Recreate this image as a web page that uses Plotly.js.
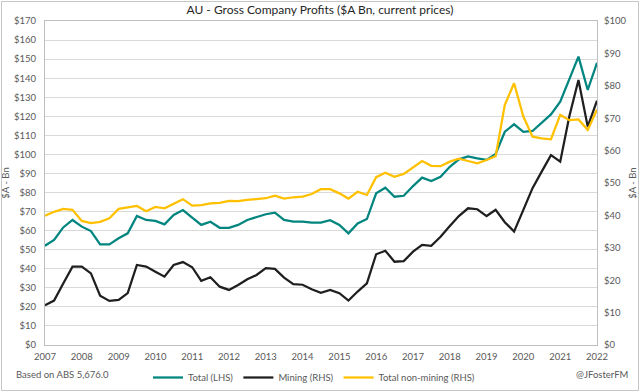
<!DOCTYPE html>
<html>
<head>
<meta charset="utf-8">
<script src="https://cdn.plot.ly/plotly-3.0.1.min.js"></script>
<style>
html,body{margin:0;padding:0;background:#fff;}
#wrap{position:relative;width:640px;height:392px;}
#chart{width:640px;height:392px;}
#frame{position:absolute;left:1px;top:1px;width:636px;height:388px;border:1px solid #c6c6c6;pointer-events:none;}
</style>
</head>
<body>
<div id="wrap"><div id="chart"></div><div id="frame"></div></div>
<script>
// Quarterly observations (plotted from start of 2007 to start of 2022)
const quarters = [
 "2007-01-01","2007-04-01","2007-07-01","2007-10-01",
 "2008-01-01","2008-04-01","2008-07-01","2008-10-01",
 "2009-01-01","2009-04-01","2009-07-01","2009-10-01",
 "2010-01-01","2010-04-01","2010-07-01","2010-10-01",
 "2011-01-01","2011-04-01","2011-07-01","2011-10-01",
 "2012-01-01","2012-04-01","2012-07-01","2012-10-01",
 "2013-01-01","2013-04-01","2013-07-01","2013-10-01",
 "2014-01-01","2014-04-01","2014-07-01","2014-10-01",
 "2015-01-01","2015-04-01","2015-07-01","2015-10-01",
 "2016-01-01","2016-04-01","2016-07-01","2016-10-01",
 "2017-01-01","2017-04-01","2017-07-01","2017-10-01",
 "2018-01-01","2018-04-01","2018-07-01","2018-10-01",
 "2019-01-01","2019-04-01","2019-07-01","2019-10-01",
 "2020-01-01","2020-04-01","2020-07-01","2020-10-01",
 "2021-01-01","2021-04-01","2021-07-01","2021-10-01",
 "2022-01-01"
];

// Total (LHS), $A Bn
const totalLHS = [
 52.1,55.1,61.7,65.6,62.1,59.8,52.8,52.8,56.0,58.6,67.7,65.6,65.1,63.3,68.2,70.8,
 66.8,63.0,64.7,61.5,61.5,63.0,65.6,67.3,68.6,69.4,65.6,64.7,64.7,64.2,64.2,65.5,
 63.0,58.6,63.8,66.1,79.6,82.5,77.8,78.3,83.4,87.8,86.0,88.3,93.5,97.4,
 99.0,97.9,97.1,100.2,111.9,115.8,111.8,112.3,116.6,121.0,127.7,139.0,151.3,133.8,148.1
];

// Mining (RHS), $A Bn
const miningRHS = [
 12.3,13.7,19.0,24.2,24.2,22.1,15.2,13.6,13.9,16.0,24.7,24.2,22.6,21.1,24.7,25.6,
 24.0,19.8,20.9,18.0,17.0,18.5,20.3,21.6,23.7,23.5,20.8,18.8,18.6,17.2,16.1,17.0,
 16.0,13.7,16.5,19.0,28.0,29.1,25.7,25.9,28.8,30.9,30.6,33.4,36.7,39.8,
 42.2,41.9,39.8,41.7,37.9,35.0,41.7,48.4,53.5,58.6,56.6,70.5,81.8,67.4,75.4
];

// Total non-mining (RHS), $A Bn
const nonMiningRHS = [
 39.9,41.1,42.0,41.7,38.3,37.6,38.0,39.1,42.0,42.5,42.9,41.3,42.6,42.2,43.5,45.0,
 43.0,43.2,43.7,43.9,44.5,44.4,44.8,45.0,45.3,46.1,45.2,45.6,45.8,46.6,48.1,48.1,
 46.8,45.2,47.3,46.3,51.8,53.2,51.9,52.8,54.7,56.8,55.3,55.2,56.6,57.5,
 56.8,56.1,57.1,58.3,74.1,80.8,70.5,64.3,63.8,63.5,71.0,69.4,69.6,66.4,72.7
];

const seriesNames = ["Total (LHS)", "Mining (RHS)", "Total non-mining (RHS)"];
const yearTicks = ["2007","2008","2009","2010","2011","2012","2013","2014","2015","2016","2017","2018","2019","2020","2021","2022"];

const FONT = "Lato, 'Open Sans', 'Liberation Sans', sans-serif";
const GREY = "#595959";

const traces = [
  {x: quarters, y: totalLHS, name: seriesNames[0], type: "scatter", mode: "lines",
   line: {color: "#00857F", width: 2.25}, yaxis: "y"},
  {x: quarters, y: miningRHS, name: seriesNames[1], type: "scatter", mode: "lines",
   line: {color: "#1F1F1F", width: 2.25}, yaxis: "y2"},
  {x: quarters, y: nonMiningRHS, name: seriesNames[2], type: "scatter", mode: "lines",
   line: {color: "#FFC000", width: 2.25}, yaxis: "y2"}
];

const layout = {
  width: 640, height: 392,
  margin: {l: 45, r: 43, t: 21, b: 47, autoexpand: false},
  paper_bgcolor: "#ffffff", plot_bgcolor: "#ffffff",
  font: {family: FONT, size: 9.5, color: GREY},
  showlegend: true,
  title: {text: "AU - Gross Company Profits ($A Bn, current prices)",
          font: {family: FONT, size: 12, color: "#262626"},
          x: 0.5, xanchor: "center", y: 1 - 10/392, yanchor: "middle", yref: "container"},
  xaxis: {
    type: "date", range: ["2007-01-01", "2022-01-01"],
    tickmode: "array", tickvals: yearTicks.map(y => y + "-01-01"), ticktext: yearTicks,
    showgrid: false, showline: true, linecolor: "#bfbfbf", linewidth: 1, mirror: true,
    ticks: "", ticklabelstandoff: 3, tickfont: {size: 9.5, color: GREY}, zeroline: false, fixedrange: true
  },
  yaxis: {
    range: [0, 170], dtick: 10, tick0: 0, tickprefix: "$",
    showgrid: true, gridcolor: "#d9d9d9", gridwidth: 1,
    showline: true, linecolor: "#bfbfbf", linewidth: 1, mirror: true,
    zeroline: false, ticks: "", ticklabelstandoff: 6,
    tickfont: {size: 9.5, color: GREY},
    title: {text: "$A - Bn", font: {size: 9.5, color: GREY}, standoff: 2}
  },
  yaxis2: {
    range: [0, 100], dtick: 10, tick0: 0, tickprefix: "$",
    overlaying: "y", side: "right", showgrid: false, zeroline: false,
    showline: false, ticks: "", ticklabelstandoff: 6,
    tickfont: {size: 9.5, color: GREY},
    title: {text: "$A - Bn", font: {size: 9.5, color: GREY}, standoff: 3}
  },
  legend: {orientation: "h", x: (148-45)/552, xanchor: "left", y: (345-363)/324, yanchor: "top",
           font: {size: 9.5, color: GREY}, itemwidth: 30, bgcolor: "rgba(0,0,0,0)"},
  annotations: [
    {text: "Based on ABS 5,676.0", xref: "paper", yref: "paper",
     x: (14-45)/552, xanchor: "left", y: (345-374)/324, yanchor: "middle",
     showarrow: false, font: {size: 9.5, color: GREY}},
    {text: "@JFosterFM", xref: "paper", yref: "paper",
     x: (630-45)/552, xanchor: "right", y: (345-374)/324, yanchor: "middle",
     showarrow: false, font: {size: 9.5, color: GREY}}
  ]
};

Plotly.newPlot("chart", traces, layout, {staticPlot: true, displayModeBar: false});
</script>
</body>
</html>
